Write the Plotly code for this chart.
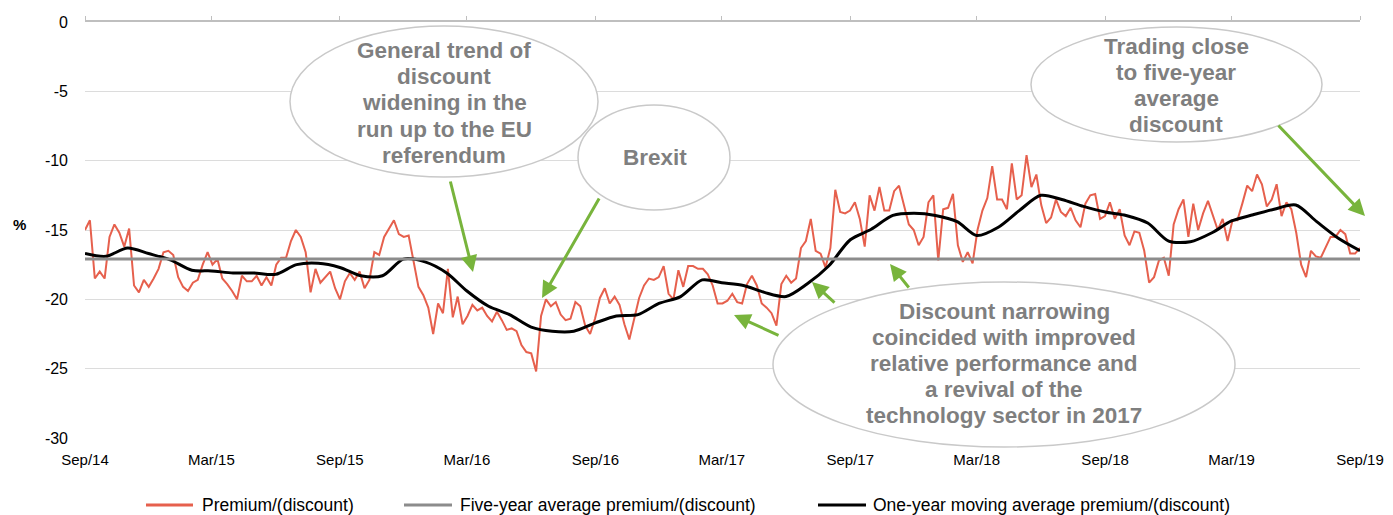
import plotly.graph_objects as go
import pandas as pd

# ---------------- data ----------------
premium_discount = [
    -15, -14.3, -18.5, -18.0, -18.5, -15.5, -14.6, -15.2, -16.2, -14.9,
    -19, -19.5, -18.6, -19.1, -18.5, -17.8, -16.6, -16.5, -16.8, -18.4,
    -19.1, -19.4, -18.8, -18.6, -17.5, -16.6, -17.5, -17.1, -18.5, -18.9,
    -19.4, -20, -18.3, -18.7, -18.7, -18.3, -19, -18.4, -19, -17.5,
    -17, -17, -15.8, -15, -15.5, -16.6, -19.5, -17.8, -18.8, -18.4,
    -18, -19.2, -20, -18.7,
    -18.1, -18.6, -18, -19.2, -18.6, -16.6, -16.8, -15.5, -14.9, -14.3,
    -15.3, -15.5, -15.4, -17.3, -19.1, -19.7, -20.6, -22.5, -20.3, -21,
    -17.8, -21.3, -19.8, -21.8, -21.2, -20.4, -20.8, -20.6, -21.2, -21.6,
    -20.9, -21.5, -22.2, -22.1, -22.3, -23.3, -23.8, -23.9, -25.2, -21.2,
    -20, -20.5, -20.2, -21.1, -21.5, -21.4, -20.2, -20.5, -21.9, -22.5,
    -21.4, -19.9, -19.2,
    -20.3, -19.8, -20.4, -21.8, -22.9, -21.3, -19.9, -19, -18.5, -18.6,
    -18.4, -17.6, -19.6, -20, -17.9, -19.1, -17.6, -17.6, -17.8, -17.8,
    -18.2, -19, -20.3, -20.3, -20.1, -19.6, -20.2, -20.3, -18.9, -18.3,
    -19, -20.3, -20.6, -21, -21.9, -18.9, -18.3, -18.8, -18.5, -16.3,
    -15.8, -14.2, -16.5, -16.7, -17.7, -16.3, -12.1, -13.7, -13.8, -13.6,
    -13, -14.2, -16.2,
    -12.5, -13.6, -11.9, -13.6, -13.6, -12.2, -11.8, -13.2, -14.6, -15,
    -16.1, -15.5, -13, -12.5, -17.2, -13.5, -13.4, -12.4, -16.1, -17.3,
    -16.6, -17.4, -15, -13.6, -12.7, -10.4, -12.8, -12.8, -13.5, -10.2,
    -12.8, -12.5, -9.6, -11.9, -11, -13.2, -14.5, -14.1, -12.8, -13.7,
    -14, -13.4, -14.3, -14.8, -13.1, -12.5, -12.4, -14.2, -14, -13,
    -14.2, -13.5, -15.4,
    -16.1, -15.1, -15.2, -16.5, -18.8, -18.4, -17.2, -17, -18.3, -14.6,
    -13.5, -12.8, -15.5, -13.1, -15, -13.8, -12.9, -13.9, -15, -14.2,
    -15.8, -14.3, -14.3, -13.1, -11.8, -12.2, -11, -11.7, -13.3, -12.8,
    -11.7, -14, -13, -13.5, -15.2, -17.5, -18.4, -16.5, -16.9, -17,
    -16.3, -15.5, -15.5, -15, -15.3, -16.7, -16.7, -16.3,
]

one_year_moving_avg = [
    -16.7, -16.9, -16.3, -16.7, -17.15, -17.9, -17.95, -18.1, -18.1, -18.2,
    -17.5, -17.4, -17.7, -18.3, -18.3, -17.1, -17.3, -18.1, -19.4, -20.5,
    -21.1, -22.0, -22.3, -22.3, -21.7, -21.2, -21.1, -20.3, -19.8, -18.6,
    -18.8, -19.0, -19.5, -19.8, -18.9, -17.6, -15.7, -14.95, -13.95, -13.8,
    -13.95, -14.4, -15.4, -14.8, -13.6, -12.5, -12.8, -13.3, -13.7, -13.95,
    -14.5, -15.8, -15.85, -15.2, -14.35, -13.9, -13.5, -13.2, -14.4, -15.6,
    -16.5,
]

five_year_avg = -17.1

tick_dates = ["2014-09-01", "2015-03-01", "2015-09-01", "2016-03-01",
              "2016-09-01", "2017-03-01", "2017-09-01", "2018-03-01",
              "2018-09-01", "2019-03-01", "2019-09-01"]
tick_labels = ["Sep/14", "Mar/15", "Sep/15", "Mar/16", "Sep/16", "Mar/17",
               "Sep/17", "Mar/18", "Sep/18", "Mar/19", "Sep/19"]

series_names = ["Premium/(discount)",
                "Five-year average premium/(discount)",
                "One-year moving average premium/(discount)"]

# ---------------- styling ----------------
FONT = "Liberation Sans, Arial, sans-serif"
RED = "#E6604D"
GREY = "#8C8C8C"
BLACK = "#000000"
GREEN = "#78B43C"
CALLOUT_TEXT = "#7F7F7F"

W, H = 1393, 515
L, R, T, B = 85, 33, 22, 77
PW = W - L - R
PH = H - T - B


def px(x):
    return (x - L) / PW


def py(y):
    return (H - B - y) / PH


start, end = "2014-09-01", "2019-09-01"
prem_dates = pd.date_range(start, end, periods=len(premium_discount))
ma_dates = pd.date_range(start, periods=len(one_year_moving_avg), freq="MS")

fig = go.Figure()
fig.add_trace(go.Scatter(x=prem_dates, y=premium_discount, mode="lines",
                         name=series_names[0],
                         line=dict(color=RED, width=2), showlegend=False))
fig.add_trace(go.Scatter(x=[start, end], y=[five_year_avg, five_year_avg],
                         mode="lines", name=series_names[1], xaxis="x2",
                         line=dict(color=GREY, width=3), showlegend=False))
fig.add_trace(go.Scatter(x=ma_dates, y=one_year_moving_avg, mode="lines",
                         name=series_names[2],
                         line=dict(color=BLACK, width=3, shape="spline",
                                   smoothing=0.8), showlegend=False))

shapes = []
annotations = []

# callout ellipses (pixel boxes)
ellipses = [(290, 26, 598, 177), (578, 105, 730, 210),
            (1031, 27, 1322, 142), (773, 282, 1235, 447)]
for x0, y0, x1, y1 in ellipses:
    shapes.append(dict(type="circle", xref="paper", yref="paper",
                       x0=px(x0), x1=px(x1), y0=py(y1), y1=py(y0),
                       fillcolor="white", line=dict(color="#C9C9C9", width=1.5),
                       layer="above"))

callouts = [
    (444, [51, 77, 103, 129, 155],
     ["General trend of", "discount", "widening in the", "run up to the EU",
      "referendum"]),
    (655, [158], ["Brexit"]),
    (1176, [46, 72, 98, 124],
     ["Trading close", "to five-year", "average", "discount"]),
    (1004, [311, 337, 363, 389, 415],
     ["Discount narrowing", "coincided with improved",
      "relative performance and", "a revival of the",
      "technology sector in 2017"]),
]
for cx, ys, lines in callouts:
    for yy, txt in zip(ys, lines):
        annotations.append(dict(xref="paper", yref="paper", x=px(cx), y=py(yy),
                                text=txt, showarrow=False, xanchor="center",
                                yanchor="middle",
                                font=dict(family=FONT, size=22.5,
                                          color=CALLOUT_TEXT, weight="bold")))

# green arrows: (tail_x, tail_y, head_x, head_y)
arrows = [(450, 180, 473, 272), (600, 197, 542, 298), (1277, 124, 1365, 216),
          (780, 336, 734, 315), (836, 304, 812, 282), (910, 289, 890, 264)]
for tx, ty, hx, hy in arrows:
    annotations.append(dict(xref="paper", yref="paper", x=px(hx), y=py(hy),
                            ax=tx - hx, ay=ty - hy, axref="pixel", ayref="pixel",
                            text="", showarrow=True, arrowhead=2, arrowsize=1.1,
                            arrowwidth=3, arrowcolor=GREEN, standoff=0))

# "%" axis title
annotations.append(dict(xref="paper", yref="paper", x=px(19), y=py(224),
                        text="%", showarrow=False, xanchor="center",
                        yanchor="middle",
                        font=dict(family=FONT, size=15, color="#000000",
                                  weight="bold")))

# manual legend
LEG_Y = 505
legend_items = [(146, 193, 200, RED), (404, 452, 458, GREY),
                (818, 866, 871, BLACK)]
for (lx0, lx1, tx, col), name in zip(legend_items, series_names):
    shapes.append(dict(type="line", xref="paper", yref="paper",
                       x0=px(lx0), x1=px(lx1), y0=py(LEG_Y), y1=py(LEG_Y),
                       line=dict(color=col, width=3)))
    annotations.append(dict(xref="paper", yref="paper", x=px(tx), y=py(LEG_Y),
                            text=name, showarrow=False, xanchor="left",
                            yanchor="middle",
                            font=dict(family=FONT, size=17.5, color="#000000")))

axis_common = dict(type="date", range=[start, end], tickvals=tick_dates)

fig.update_layout(
    width=W, height=H,
    margin=dict(l=L, r=R, t=T, b=B, autoexpand=False),
    paper_bgcolor="white", plot_bgcolor="white",
    font=dict(family=FONT, size=15, color="#000000"),
    showlegend=False,
    hovermode=False,
    xaxis=dict(**axis_common, ticktext=tick_labels, showgrid=False,
               showline=False, ticks="", zeroline=False,
               tickfont=dict(family=FONT, size=15, color="#000000"),
               ticklabelstandoff=11),
    xaxis2=dict(**axis_common, overlaying="x", side="top",
                showticklabels=False, showgrid=False, showline=True,
                linecolor="#BFBFBF", linewidth=1.5, ticks="outside",
                ticklen=4, tickcolor="#BFBFBF", zeroline=False),
    yaxis=dict(range=[-30, 0], tickvals=[0, -5, -10, -15, -20, -25, -30],
               ticktext=["0", "-5", "-10", "-15", "-20", "-25", "-30"],
               showgrid=True, gridcolor="#DCDCDC", gridwidth=1,
               zeroline=False, showline=False, ticks="",
               tickfont=dict(family=FONT, size=16, color="#000000"),
               ticklabelstandoff=16),
    shapes=shapes,
    annotations=annotations,
)

fig.write_html("out.html",
               config={"displayModeBar": False},
               post_script="document.body.style.margin='0';"
                           "document.body.style.overflow='hidden';")
